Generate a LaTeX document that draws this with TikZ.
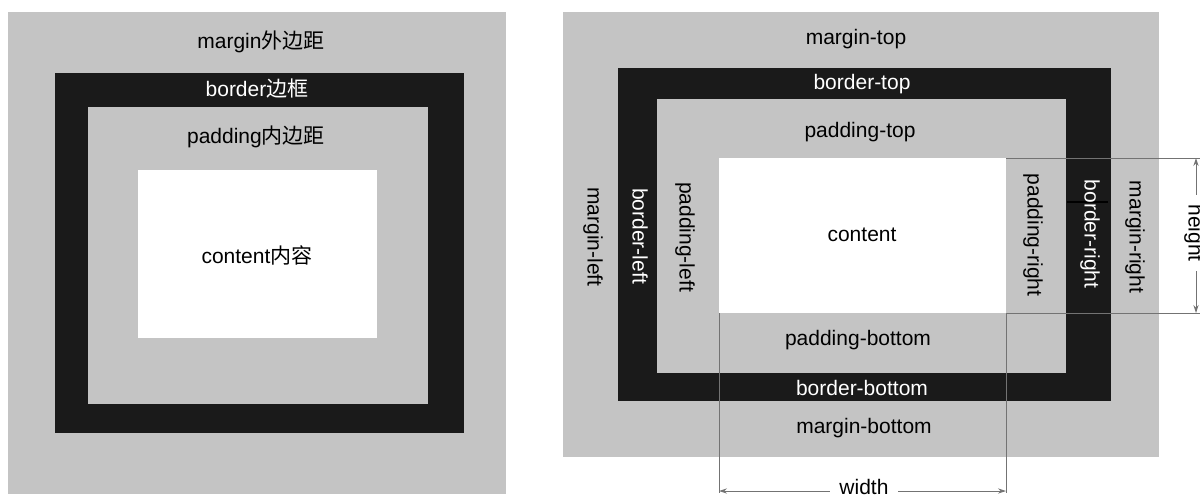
\documentclass[tikz,border=0pt]{standalone}
\usepackage{fontspec}
\setmainfont{Liberation Sans}
\newfontfamily\cjk{Noto Sans CJK SC}
\usetikzlibrary{arrows.meta}
\definecolor{boxgray}{RGB}{196,196,196}
\definecolor{boxblack}{RGB}{26,26,26}
\definecolor{dimgray}{RGB}{115,115,115}
\begin{document}
\begin{tikzpicture}[x=0.5pt,y=-0.5pt,
  lbl/.style={inner sep=0pt, font=\fontsize{10.5}{12}\selectfont, text=black},
  wlbl/.style={lbl, text=white},
  vlbl/.style={lbl, rotate=-90},
  wvlbl/.style={wlbl, rotate=-90},
  dimline/.style={draw=dimgray, line width=0.5pt},
  dimarrow/.style={dimline, {Stealth[length=4pt,width=2.6pt]}-{Stealth[length=4pt,width=2.6pt]}},
  dimlabel/.style={lbl, fill=white, inner xsep=4.5pt, inner ysep=0pt},
]
\useasboundingbox (0,0) rectangle (1200,495);
\fill[white] (0,0) rectangle (1200,495);

% ---------- left diagram ----------
\fill[boxgray]  (8,12)   rectangle (506,494);
\fill[boxblack] (55,73)  rectangle (464,433);
\fill[boxgray]  (88,107) rectangle (428,404);
\fill[white]    (138,170) rectangle (377,338);

\node[lbl]  (lm) at (261,42)  {margin{\cjk 外边距}};
\node[wlbl] (lb) at (257,89)  {border{\cjk 边框}};
\node[lbl]  (lp) at (256,137) {padding{\cjk 内边距}};
\node[lbl]  (lc) at (257,255) {content{\cjk 内容}};

% ---------- right diagram ----------
\fill[boxgray]  (563,12)  rectangle (1159,457);
\fill[boxblack] (618,68)  rectangle (1111,401);
\fill[boxgray]  (657,99)  rectangle (1066,373);
\fill[white]    (719,158) rectangle (1006,313);
\draw[black, line width=1.2pt] (1067,202) -- (1108,202);

\coordinate (ctl) at (719,158);
\coordinate (ctr) at (1006,158);
\coordinate (cbl) at (719,313);
\coordinate (cbr) at (1006,313);
\coordinate (ht) at (1200,158);
\coordinate (hb) at (1200,313);
\coordinate (wl) at (719,493);
\coordinate (wr) at (1006,493);
\coordinate (ha) at (1196,158);
\coordinate (hz) at (1196,313);
\coordinate (wa) at (719,491);
\coordinate (wz) at (1006,491);

\node[lbl]   (mt) at (856,39)  {margin-top};
\node[wlbl]  (bt) at (862,84)  {border-top};
\node[lbl]   (pt) at (860,132) {padding-top};
\node[lbl]   (ct) at (862,235) {content};
\node[lbl]   (pb) at (858,340) {padding-bottom};
\node[wlbl]  (bb) at (862,388) {border-bottom};
\node[lbl]   (mb) at (864,428) {margin-bottom};
\node[vlbl]  (ml) at (593,237) {margin-left};
\node[wvlbl] (bl) at (640,236) {border-left};
\node[vlbl]  (pl) at (685,237) {padding-left};
\node[vlbl]  (pr) at (1033,235) {padding-right};
\node[wvlbl] (br) at (1090,234) {border-right};
\node[vlbl]  (mr) at (1135,237) {margin-right};

% dimension lines
\draw[dimline] (ctr) -- (ht);
\draw[dimline] (cbr) -- (hb);
\draw[dimline] (cbl) -- (wl);
\draw[dimline] (cbr) -- (wr);
\draw[dimarrow] (ha) -- (hz);
\draw[dimarrow] (wa) -- (wz);
\node[dimlabel, rotate=-90] (hl) at (1194,233) {height};
\node[dimlabel] (wlb) at (864,487) {width};
\end{tikzpicture}
\end{document}
